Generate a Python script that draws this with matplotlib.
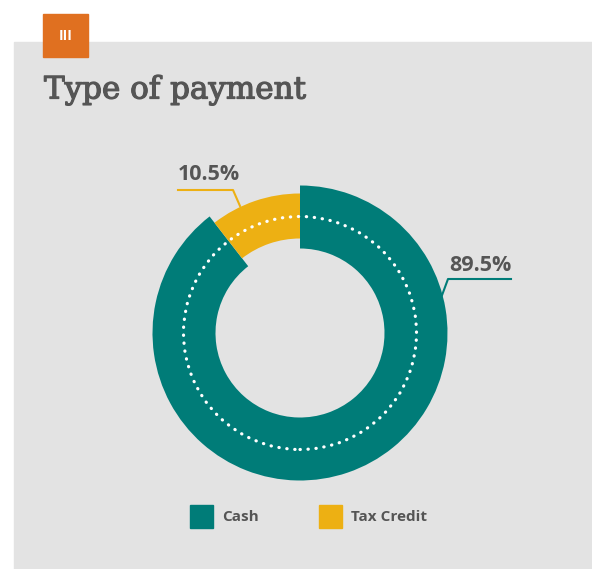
import matplotlib.pyplot as plt
import matplotlib.patheffects as pe
from matplotlib.patches import Rectangle, Circle

labels = ["Cash", "Tax Credit"]
shares = [89.5, 10.5]
colors = ["#007C78", "#EDB013"]
title = "Type of payment"
badge = "III"

W, H = 592, 569
fig = plt.figure(figsize=(W / 100, H / 100), dpi=100)
ax = fig.add_axes([0, 0, 1, 1])

cx, cy = 300, H - 333

# background panel and badge
ax.add_patch(Rectangle((14, 0), W - 14, H - 42, color="#E3E3E3", zorder=0))
ax.add_patch(Rectangle((43, H - 57), 45, 43, color="#E07020", zorder=1))
ax.text(65.5, H - 36, badge, color="white", fontsize=10, fontweight="bold",
        ha="center", va="center", family="Open Sans")
ax.text(44, H - 90, title, color="#555555", fontsize=22.3,
        ha="left", va="center", family="DejaVu Serif",
        path_effects=[pe.withStroke(linewidth=0.9, foreground="#555555")])

# cash ring (thick) and tax credit ring (thin)
ax.pie(shares, colors=[colors[0], "none"], startangle=90, counterclock=False,
       center=(cx, cy), radius=147.5, wedgeprops=dict(width=63, linewidth=0))
ax.pie(shares, colors=["none", colors[1]], startangle=90, counterclock=False,
       center=(cx, cy), radius=139.5, wedgeprops=dict(width=45, linewidth=0))

ax.add_patch(Circle((cx, cy), 116.5, fill=False, edgecolor="white",
                    linewidth=2.3, linestyle=(0, (0.1, 2.4)), capstyle="round", zorder=5))

# leader lines and labels
ax.plot([178, 233, 240], [H - 190, H - 190, H - 206], color=colors[1], lw=1.5, zorder=6)
ax.text(178, H - 180, f"{shares[1]}%", color="#555555", fontsize=15.5,
        fontweight="bold", ha="left", va="baseline", family="Open Sans")
ax.plot([511, 448, 441], [H - 279, H - 279, H - 298], color=colors[0], lw=1.5, zorder=6)
ax.text(449, H - 271, f"{shares[0]}%", color="#555555", fontsize=15.5,
        fontweight="bold", ha="left", va="baseline", family="Open Sans")

# legend
for i, (lab, col) in enumerate(zip(labels, colors)):
    x0 = 190 + i * 129
    ax.add_patch(Rectangle((x0, H - 528), 23, 23, color=col, zorder=3))
    ax.text(x0 + 32, H - 517, lab, color="#555555", fontsize=11,
            fontweight="bold", ha="left", va="center", family="Open Sans")

ax.set_xlim(0, W)
ax.set_ylim(0, H)
ax.set_aspect("auto")
ax.axis("off")

fig.savefig("out.png", dpi=100, facecolor="white")
